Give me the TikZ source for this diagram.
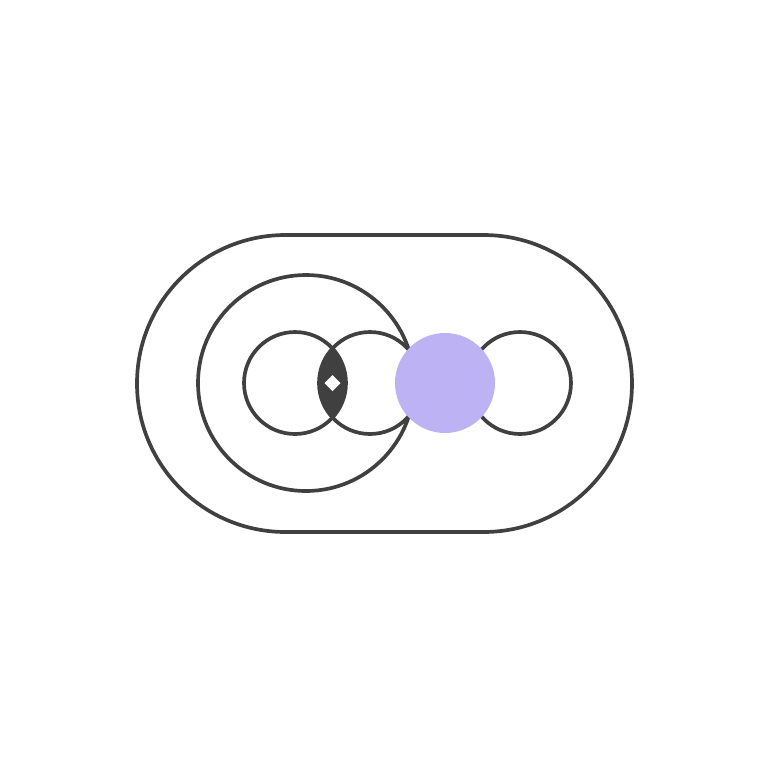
\documentclass[tikz,border=0pt]{standalone}
\usepackage{xcolor}
\usepackage{tikz}

\definecolor{ink}{HTML}{404040}
\definecolor{lilac}{HTML}{BDB2F4}

\begin{document}
\begin{tikzpicture}[x=0.02cm, y=-0.02cm, line width=2.1pt]
    \useasboundingbox (0,0) rectangle (769,769);

    % Outer capsule
    \draw[ink, rounded corners=2.97cm] (137,235) rectangle (632,532);

    % Big ring
    \draw[ink] (306,383) circle (108);

    % Small rings
    \foreach \x in {295,370,520} {
        \draw[ink] (\x,383) circle (51);
    }

    % Overlap of the two left rings
    \begin{scope}
        \clip (295,383) circle (51);
        \fill[ink] (370,383) circle (51);
    \end{scope}
    \fill[white] (332.5,375) -- (340.5,383) -- (332.5,391) -- (324.5,383) -- cycle;

    % Filled dot
    \fill[lilac] (445,383) circle (50);
\end{tikzpicture}
\end{document}
